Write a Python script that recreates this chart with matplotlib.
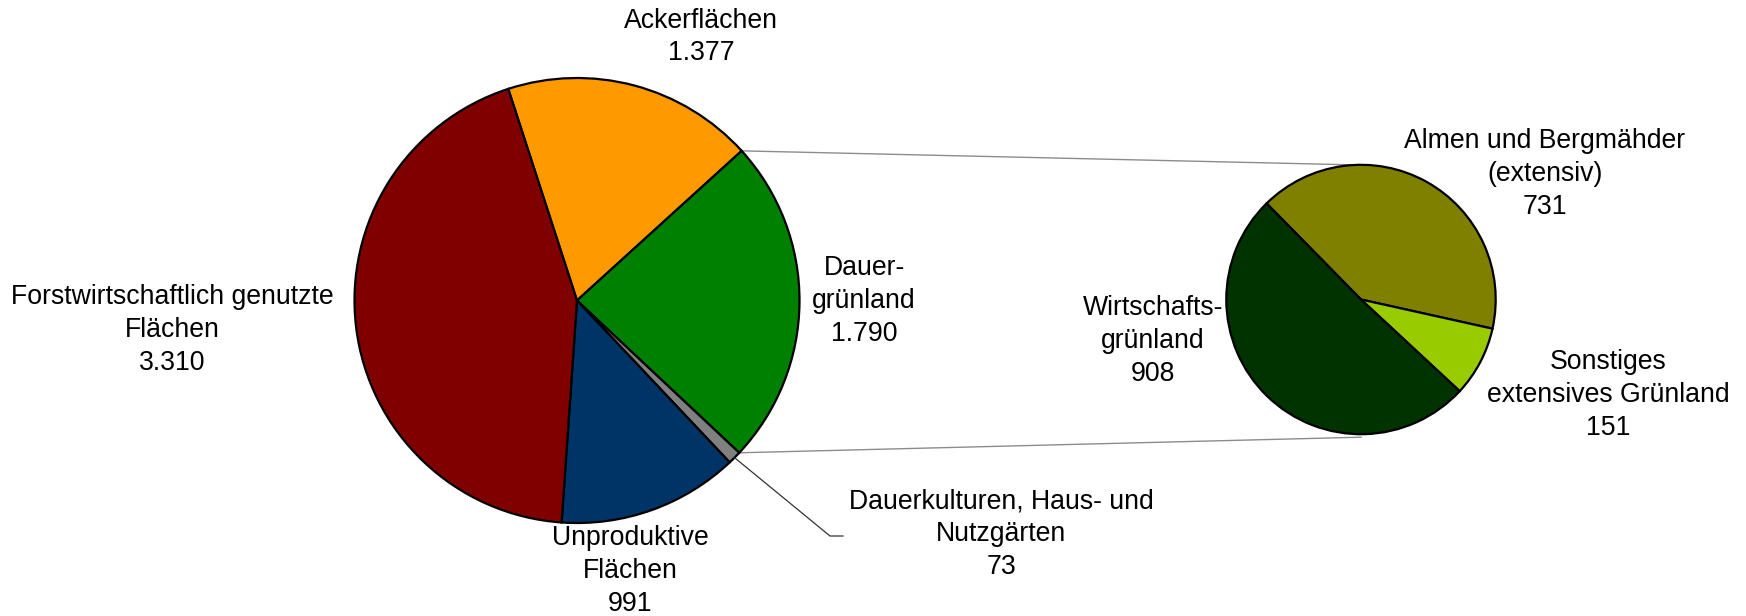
import numpy as np
import matplotlib
matplotlib.use("Agg")
import matplotlib.pyplot as plt

plt.rcParams['font.family'] = ['Liberation Sans', 'DejaVu Sans']

# main pie (in 1.000 ha)
main_labels = ["Ackerflächen", "Dauer-\ngrünland", "Dauerkulturen, Haus- und\nNutzgärten",
               "Unproduktive\nFlächen", "Forstwirtschaftlich genutzte\nFlächen"]
main_values = [1377, 1790, 73, 991, 3310]
main_colors = ["#FF9900", "#008000", "#808080", "#003366", "#800000"]

# breakdown of Dauergrünland
sub_labels = ["Almen und Bergmähder\n(extensiv)", "Sonstiges\nextensives Grünland", "Wirtschafts-\ngrünland"]
sub_values = [731, 151, 908]
sub_colors = ["#808000", "#99CC00", "#003300"]

W, H = 1746, 616


def fmt(v):
    return f"{v:,}".replace(",", ".")


fig = plt.figure(figsize=(W / 100, H / 100), dpi=100)
ax = fig.add_axes([0, 0, 1, 1])

# pie geometry in pixel coords (y from bottom)
c1, r1, start1 = (577, H - 300.5), 222.5, 108
c2, r2, start2 = (1361, H - 299.5), 134.7, 134.5

wp = dict(edgecolor="black", linewidth=1.6)
w1, _ = ax.pie(main_values, colors=main_colors, startangle=start1, counterclock=False,
               center=c1, radius=r1, wedgeprops=wp)
w2, _ = ax.pie(sub_values, colors=sub_colors, startangle=start2, counterclock=False,
               center=c2, radius=r2, wedgeprops=wp)


def edge_pt(c, r, ang):
    a = np.deg2rad(ang)
    return c[0] + r * np.cos(a), c[1] + r * np.sin(a)


# connector lines from the Dauergrünland slice to the second pie
gr = w1[1]
p_top = edge_pt(c1, r1, gr.theta2)
p_bot = edge_pt(c1, r1, gr.theta1)
ax.plot([p_top[0], c2[0] - 10], [p_top[1], c2[1] + r2], color="#8c8c8c", lw=1.0, zorder=0)
ax.plot([p_bot[0], c2[0]], [p_bot[1], c2[1] - r2 - 3], color="#8c8c8c", lw=1.0, zorder=0)

# leader line for the small slice
dk = w1[2]
p_dk = edge_pt(c1, r1, (dk.theta1 + dk.theta2) / 2)
ax.plot([p_dk[0], 830, 843], [p_dk[1], H - 536, H - 536], color="#333333", lw=0.9)

# label positions (pixel centre of text block)
main_pos = [(701, 37), (864, 301), (1001, 534), (630, 571), (172, 330)]
sub_pos = [(1545, 174), (1608, 395), (1153, 341)]

fs = 19.2
for lab, v, (x, y) in zip(main_labels, main_values, main_pos):
    ax.text(x, H - y, f"{lab}\n{fmt(v)}", ha="center", va="center", fontsize=fs,
            linespacing=1.34)
for lab, v, (x, y) in zip(sub_labels, sub_values, sub_pos):
    ax.text(x, H - y, f"{lab}\n{fmt(v)}", ha="center", va="center", fontsize=fs,
            linespacing=1.34)

ax.set_xlim(0, W)
ax.set_ylim(0, H)
ax.set_aspect("equal")
ax.axis("off")

fig.savefig("out.png", dpi=100, facecolor="white")
